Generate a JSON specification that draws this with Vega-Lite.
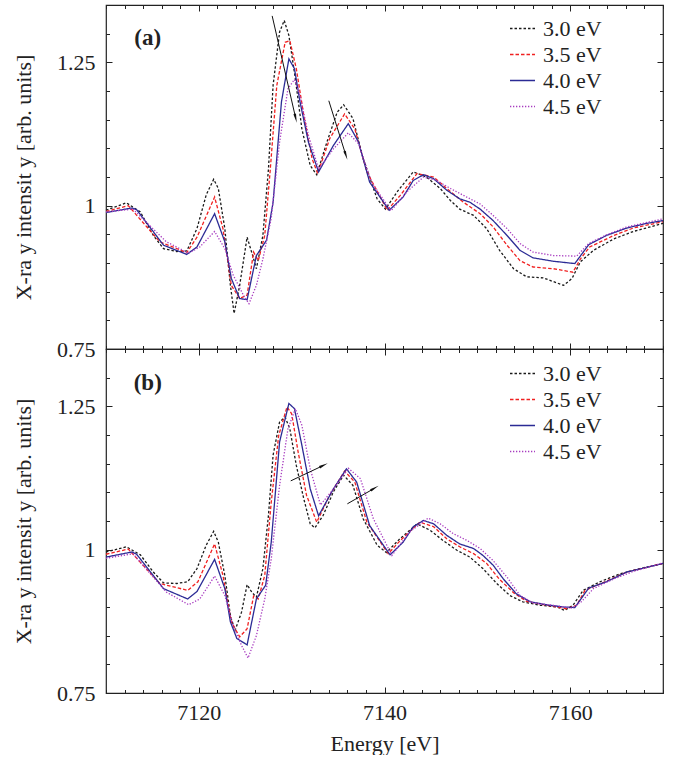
{
  "$schema": "https://vega.github.io/schema/vega-lite/v6.json",
  "background": "white",
  "padding": {"left": 11, "top": 3, "right": 15, "bottom": 0},
  "bounds": "flush",
  "spacing": 0,
  "config": {
    "view": {"stroke": "#222", "strokeWidth": 1.2},
    "font": "Liberation Serif, Times New Roman, DejaVu Serif, serif",
    "axis": {"grid": false, "domain": false, "tickColor": "#222", "tickWidth": 1, "labelFont": "Liberation Serif, Times New Roman, DejaVu Serif, serif", "labelFontSize": 22, "labelColor": "#222", "titleFont": "Liberation Serif, Times New Roman, DejaVu Serif, serif", "titleFontSize": 22, "titleFontWeight": "normal", "titleColor": "#222", "labelFlush": false, "labelOverlap": false, "titleLimit": 1000}
  },
  "datasets": {
    "curves": [
      {"p":"a","s":"3.0 eV","E":7110,"I":0.992},{"p":"a","s":"3.0 eV","E":7112.2,"I":1.005},{"p":"a","s":"3.0 eV","E":7113.7,"I":0.989},{"p":"a","s":"3.0 eV","E":7115.1,"I":0.948},{"p":"a","s":"3.0 eV","E":7116.2,"I":0.925},{"p":"a","s":"3.0 eV","E":7117.6,"I":0.920},{"p":"a","s":"3.0 eV","E":7118.7,"I":0.921},{"p":"a","s":"3.0 eV","E":7119.8,"I":0.960},{"p":"a","s":"3.0 eV","E":7120.8,"I":1.019},{"p":"a","s":"3.0 eV","E":7121.6,"I":1.046},{"p":"a","s":"3.0 eV","E":7122.1,"I":1.030},{"p":"a","s":"3.0 eV","E":7122.8,"I":0.960},{"p":"a","s":"3.0 eV","E":7123.4,"I":0.861},{"p":"a","s":"3.0 eV","E":7123.8,"I":0.812},{"p":"a","s":"3.0 eV","E":7124.4,"I":0.861},{"p":"a","s":"3.0 eV","E":7125.2,"I":0.945},{"p":"a","s":"3.0 eV","E":7125.8,"I":0.913},{"p":"a","s":"3.0 eV","E":7126.2,"I":0.890},{"p":"a","s":"3.0 eV","E":7126.9,"I":0.948},{"p":"a","s":"3.0 eV","E":7127.5,"I":1.064},{"p":"a","s":"3.0 eV","E":7128.0,"I":1.210},{"p":"a","s":"3.0 eV","E":7128.7,"I":1.303},{"p":"a","s":"3.0 eV","E":7129.2,"I":1.323},{"p":"a","s":"3.0 eV","E":7129.7,"I":1.297},{"p":"a","s":"3.0 eV","E":7130.4,"I":1.221},{"p":"a","s":"3.0 eV","E":7131.1,"I":1.134},{"p":"a","s":"3.0 eV","E":7132.0,"I":1.070},{"p":"a","s":"3.0 eV","E":7132.7,"I":1.054},{"p":"a","s":"3.0 eV","E":7133.8,"I":1.111},{"p":"a","s":"3.0 eV","E":7134.9,"I":1.163},{"p":"a","s":"3.0 eV","E":7135.6,"I":1.176},{"p":"a","s":"3.0 eV","E":7136.6,"I":1.152},{"p":"a","s":"3.0 eV","E":7137.7,"I":1.082},{"p":"a","s":"3.0 eV","E":7139.2,"I":1.012},{"p":"a","s":"3.0 eV","E":7140.1,"I":0.994},{"p":"a","s":"3.0 eV","E":7141.4,"I":1.025},{"p":"a","s":"3.0 eV","E":7143.1,"I":1.059},{"p":"a","s":"3.0 eV","E":7144.5,"I":1.050},{"p":"a","s":"3.0 eV","E":7146.0,"I":1.030},{"p":"a","s":"3.0 eV","E":7147.1,"I":1.009},{"p":"a","s":"3.0 eV","E":7148.1,"I":0.994},{"p":"a","s":"3.0 eV","E":7149.6,"I":0.983},{"p":"a","s":"3.0 eV","E":7151.0,"I":0.960},{"p":"a","s":"3.0 eV","E":7152.4,"I":0.922},{"p":"a","s":"3.0 eV","E":7153.9,"I":0.890},{"p":"a","s":"3.0 eV","E":7155.3,"I":0.876},{"p":"a","s":"3.0 eV","E":7157.1,"I":0.874},{"p":"a","s":"3.0 eV","E":7159.3,"I":0.861},{"p":"a","s":"3.0 eV","E":7160.2,"I":0.873},{"p":"a","s":"3.0 eV","E":7161.1,"I":0.902},{"p":"a","s":"3.0 eV","E":7162.5,"I":0.922},{"p":"a","s":"3.0 eV","E":7164.7,"I":0.942},{"p":"a","s":"3.0 eV","E":7166.8,"I":0.955},{"p":"a","s":"3.0 eV","E":7170,"I":0.969},

      {"p":"a","s":"3.5 eV","E":7110,"I":0.990},{"p":"a","s":"3.5 eV","E":7112.4,"I":1.000},{"p":"a","s":"3.5 eV","E":7115.8,"I":0.937},{"p":"a","s":"3.5 eV","E":7118.7,"I":0.918},{"p":"a","s":"3.5 eV","E":7119.8,"I":0.945},{"p":"a","s":"3.5 eV","E":7121.7,"I":1.015},{"p":"a","s":"3.5 eV","E":7122.6,"I":0.960},{"p":"a","s":"3.5 eV","E":7123.5,"I":0.861},{"p":"a","s":"3.5 eV","E":7124.4,"I":0.838},{"p":"a","s":"3.5 eV","E":7125.2,"I":0.844},{"p":"a","s":"3.5 eV","E":7125.9,"I":0.919},{"p":"a","s":"3.5 eV","E":7126.4,"I":0.904},{"p":"a","s":"3.5 eV","E":7127.1,"I":0.948},{"p":"a","s":"3.5 eV","E":7127.7,"I":1.064},{"p":"a","s":"3.5 eV","E":7128.4,"I":1.210},{"p":"a","s":"3.5 eV","E":7129.3,"I":1.285},{"p":"a","s":"3.5 eV","E":7129.8,"I":1.288},{"p":"a","s":"3.5 eV","E":7130.5,"I":1.239},{"p":"a","s":"3.5 eV","E":7131.3,"I":1.158},{"p":"a","s":"3.5 eV","E":7132.2,"I":1.082},{"p":"a","s":"3.5 eV","E":7132.8,"I":1.056},{"p":"a","s":"3.5 eV","E":7134.1,"I":1.117},{"p":"a","s":"3.5 eV","E":7135.7,"I":1.160},{"p":"a","s":"3.5 eV","E":7136.8,"I":1.134},{"p":"a","s":"3.5 eV","E":7138.1,"I":1.059},{"p":"a","s":"3.5 eV","E":7140.3,"I":0.992},{"p":"a","s":"3.5 eV","E":7141.7,"I":1.018},{"p":"a","s":"3.5 eV","E":7143.5,"I":1.056},{"p":"a","s":"3.5 eV","E":7145.3,"I":1.050},{"p":"a","s":"3.5 eV","E":7146.7,"I":1.030},{"p":"a","s":"3.5 eV","E":7148.5,"I":1.006},{"p":"a","s":"3.5 eV","E":7150.3,"I":0.986},{"p":"a","s":"3.5 eV","E":7151.7,"I":0.963},{"p":"a","s":"3.5 eV","E":7153.2,"I":0.931},{"p":"a","s":"3.5 eV","E":7154.6,"I":0.904},{"p":"a","s":"3.5 eV","E":7156.0,"I":0.893},{"p":"a","s":"3.5 eV","E":7158.2,"I":0.890},{"p":"a","s":"3.5 eV","E":7160.3,"I":0.884},{"p":"a","s":"3.5 eV","E":7161.1,"I":0.907},{"p":"a","s":"3.5 eV","E":7162.1,"I":0.928},{"p":"a","s":"3.5 eV","E":7164.7,"I":0.948},{"p":"a","s":"3.5 eV","E":7166.8,"I":0.961},{"p":"a","s":"3.5 eV","E":7170,"I":0.972},

      {"p":"a","s":"4.0 eV","E":7110,"I":0.988},{"p":"a","s":"4.0 eV","E":7112.8,"I":0.996},{"p":"a","s":"4.0 eV","E":7113.3,"I":0.993},{"p":"a","s":"4.0 eV","E":7116.2,"I":0.931},{"p":"a","s":"4.0 eV","E":7118.7,"I":0.915},{"p":"a","s":"4.0 eV","E":7119.8,"I":0.928},{"p":"a","s":"4.0 eV","E":7121.7,"I":0.986},{"p":"a","s":"4.0 eV","E":7122.8,"I":0.937},{"p":"a","s":"4.0 eV","E":7123.5,"I":0.873},{"p":"a","s":"4.0 eV","E":7124.4,"I":0.838},{"p":"a","s":"4.0 eV","E":7125.2,"I":0.836},{"p":"a","s":"4.0 eV","E":7126.2,"I":0.913},{"p":"a","s":"4.0 eV","E":7127.3,"I":0.940},{"p":"a","s":"4.0 eV","E":7128.0,"I":1.006},{"p":"a","s":"4.0 eV","E":7128.9,"I":1.181},{"p":"a","s":"4.0 eV","E":7129.7,"I":1.256},{"p":"a","s":"4.0 eV","E":7130.3,"I":1.239},{"p":"a","s":"4.0 eV","E":7130.9,"I":1.181},{"p":"a","s":"4.0 eV","E":7131.8,"I":1.111},{"p":"a","s":"4.0 eV","E":7132.9,"I":1.059},{"p":"a","s":"4.0 eV","E":7134.5,"I":1.105},{"p":"a","s":"4.0 eV","E":7136.1,"I":1.143},{"p":"a","s":"4.0 eV","E":7137.2,"I":1.111},{"p":"a","s":"4.0 eV","E":7138.4,"I":1.041},{"p":"a","s":"4.0 eV","E":7140.5,"I":0.992},{"p":"a","s":"4.0 eV","E":7142.0,"I":1.015},{"p":"a","s":"4.0 eV","E":7143.1,"I":1.044},{"p":"a","s":"4.0 eV","E":7144.2,"I":1.054},{"p":"a","s":"4.0 eV","E":7145.3,"I":1.047},{"p":"a","s":"4.0 eV","E":7146.7,"I":1.027},{"p":"a","s":"4.0 eV","E":7148.1,"I":1.012},{"p":"a","s":"4.0 eV","E":7149.2,"I":1.006},{"p":"a","s":"4.0 eV","E":7150.3,"I":0.994},{"p":"a","s":"4.0 eV","E":7151.7,"I":0.974},{"p":"a","s":"4.0 eV","E":7153.2,"I":0.948},{"p":"a","s":"4.0 eV","E":7154.6,"I":0.922},{"p":"a","s":"4.0 eV","E":7156.0,"I":0.909},{"p":"a","s":"4.0 eV","E":7158.2,"I":0.903},{"p":"a","s":"4.0 eV","E":7160.5,"I":0.899},{"p":"a","s":"4.0 eV","E":7162.0,"I":0.932},{"p":"a","s":"4.0 eV","E":7163.9,"I":0.948},{"p":"a","s":"4.0 eV","E":7166.1,"I":0.961},{"p":"a","s":"4.0 eV","E":7168.2,"I":0.969},{"p":"a","s":"4.0 eV","E":7170,"I":0.974},

      {"p":"a","s":"4.5 eV","E":7110,"I":0.989},{"p":"a","s":"4.5 eV","E":7112.9,"I":0.994},{"p":"a","s":"4.5 eV","E":7116.5,"I":0.937},{"p":"a","s":"4.5 eV","E":7118.9,"I":0.917},{"p":"a","s":"4.5 eV","E":7120.1,"I":0.928},{"p":"a","s":"4.5 eV","E":7121.7,"I":0.955},{"p":"a","s":"4.5 eV","E":7122.8,"I":0.925},{"p":"a","s":"4.5 eV","E":7123.7,"I":0.879},{"p":"a","s":"4.5 eV","E":7124.8,"I":0.844},{"p":"a","s":"4.5 eV","E":7125.4,"I":0.829},{"p":"a","s":"4.5 eV","E":7126.2,"I":0.861},{"p":"a","s":"4.5 eV","E":7126.9,"I":0.907},{"p":"a","s":"4.5 eV","E":7127.8,"I":0.978},{"p":"a","s":"4.5 eV","E":7128.7,"I":1.111},{"p":"a","s":"4.5 eV","E":7129.6,"I":1.204},{"p":"a","s":"4.5 eV","E":7130.3,"I":1.220},{"p":"a","s":"4.5 eV","E":7130.9,"I":1.192},{"p":"a","s":"4.5 eV","E":7131.8,"I":1.123},{"p":"a","s":"4.5 eV","E":7132.9,"I":1.064},{"p":"a","s":"4.5 eV","E":7134.5,"I":1.099},{"p":"a","s":"4.5 eV","E":7136.1,"I":1.127},{"p":"a","s":"4.5 eV","E":7137.2,"I":1.108},{"p":"a","s":"4.5 eV","E":7138.6,"I":1.041},{"p":"a","s":"4.5 eV","E":7140.7,"I":0.991},{"p":"a","s":"4.5 eV","E":7142.4,"I":1.024},{"p":"a","s":"4.5 eV","E":7144.2,"I":1.050},{"p":"a","s":"4.5 eV","E":7145.6,"I":1.044},{"p":"a","s":"4.5 eV","E":7147.1,"I":1.030},{"p":"a","s":"4.5 eV","E":7148.5,"I":1.018},{"p":"a","s":"4.5 eV","E":7150.3,"I":1.003},{"p":"a","s":"4.5 eV","E":7151.7,"I":0.983},{"p":"a","s":"4.5 eV","E":7153.2,"I":0.960},{"p":"a","s":"4.5 eV","E":7154.6,"I":0.934},{"p":"a","s":"4.5 eV","E":7156.0,"I":0.919},{"p":"a","s":"4.5 eV","E":7158.2,"I":0.913},{"p":"a","s":"4.5 eV","E":7160.7,"I":0.912},{"p":"a","s":"4.5 eV","E":7162.0,"I":0.934},{"p":"a","s":"4.5 eV","E":7163.9,"I":0.949},{"p":"a","s":"4.5 eV","E":7166.1,"I":0.963},{"p":"a","s":"4.5 eV","E":7170,"I":0.977},

      {"p":"b","s":"3.0 eV","E":7110,"I":0.996},{"p":"b","s":"3.0 eV","E":7112.2,"I":1.005},{"p":"b","s":"3.0 eV","E":7113.7,"I":0.991},{"p":"b","s":"3.0 eV","E":7115.1,"I":0.961},{"p":"b","s":"3.0 eV","E":7116.2,"I":0.942},{"p":"b","s":"3.0 eV","E":7117.6,"I":0.941},{"p":"b","s":"3.0 eV","E":7118.8,"I":0.944},{"p":"b","s":"3.0 eV","E":7119.8,"I":0.967},{"p":"b","s":"3.0 eV","E":7120.8,"I":1.008},{"p":"b","s":"3.0 eV","E":7121.6,"I":1.032},{"p":"b","s":"3.0 eV","E":7122.1,"I":1.013},{"p":"b","s":"3.0 eV","E":7122.8,"I":0.955},{"p":"b","s":"3.0 eV","E":7123.4,"I":0.885},{"p":"b","s":"3.0 eV","E":7123.9,"I":0.859},{"p":"b","s":"3.0 eV","E":7124.6,"I":0.891},{"p":"b","s":"3.0 eV","E":7125.2,"I":0.939},{"p":"b","s":"3.0 eV","E":7125.7,"I":0.926},{"p":"b","s":"3.0 eV","E":7126.2,"I":0.917},{"p":"b","s":"3.0 eV","E":7126.9,"I":0.967},{"p":"b","s":"3.0 eV","E":7127.5,"I":1.060},{"p":"b","s":"3.0 eV","E":7128.0,"I":1.165},{"p":"b","s":"3.0 eV","E":7128.7,"I":1.223},{"p":"b","s":"3.0 eV","E":7129.3,"I":1.231},{"p":"b","s":"3.0 eV","E":7129.8,"I":1.211},{"p":"b","s":"3.0 eV","E":7130.5,"I":1.147},{"p":"b","s":"3.0 eV","E":7131.3,"I":1.089},{"p":"b","s":"3.0 eV","E":7132.0,"I":1.045},{"p":"b","s":"3.0 eV","E":7132.5,"I":1.038},{"p":"b","s":"3.0 eV","E":7133.4,"I":1.060},{"p":"b","s":"3.0 eV","E":7134.5,"I":1.101},{"p":"b","s":"3.0 eV","E":7135.6,"I":1.130},{"p":"b","s":"3.0 eV","E":7136.6,"I":1.112},{"p":"b","s":"3.0 eV","E":7137.7,"I":1.054},{"p":"b","s":"3.0 eV","E":7139.2,"I":1.008},{"p":"b","s":"3.0 eV","E":7140.2,"I":0.995},{"p":"b","s":"3.0 eV","E":7141.6,"I":1.018},{"p":"b","s":"3.0 eV","E":7143.5,"I":1.045},{"p":"b","s":"3.0 eV","E":7144.9,"I":1.034},{"p":"b","s":"3.0 eV","E":7146.3,"I":1.016},{"p":"b","s":"3.0 eV","E":7147.8,"I":0.999},{"p":"b","s":"3.0 eV","E":7149.2,"I":0.987},{"p":"b","s":"3.0 eV","E":7150.6,"I":0.967},{"p":"b","s":"3.0 eV","E":7152.1,"I":0.941},{"p":"b","s":"3.0 eV","E":7153.5,"I":0.920},{"p":"b","s":"3.0 eV","E":7154.9,"I":0.909},{"p":"b","s":"3.0 eV","E":7156.8,"I":0.903},{"p":"b","s":"3.0 eV","E":7158.6,"I":0.900},{"p":"b","s":"3.0 eV","E":7159.4,"I":0.894},{"p":"b","s":"3.0 eV","E":7160.3,"I":0.903},{"p":"b","s":"3.0 eV","E":7161.4,"I":0.929},{"p":"b","s":"3.0 eV","E":7163.2,"I":0.944},{"p":"b","s":"3.0 eV","E":7165.4,"I":0.958},{"p":"b","s":"3.0 eV","E":7167.5,"I":0.967},{"p":"b","s":"3.0 eV","E":7170,"I":0.976},

      {"p":"b","s":"3.5 eV","E":7110,"I":0.992},{"p":"b","s":"3.5 eV","E":7112.4,"I":1.001},{"p":"b","s":"3.5 eV","E":7115.8,"I":0.941},{"p":"b","s":"3.5 eV","E":7118.8,"I":0.929},{"p":"b","s":"3.5 eV","E":7119.9,"I":0.944},{"p":"b","s":"3.5 eV","E":7121.7,"I":1.010},{"p":"b","s":"3.5 eV","E":7122.6,"I":0.955},{"p":"b","s":"3.5 eV","E":7123.5,"I":0.874},{"p":"b","s":"3.5 eV","E":7124.4,"I":0.848},{"p":"b","s":"3.5 eV","E":7125.2,"I":0.862},{"p":"b","s":"3.5 eV","E":7125.9,"I":0.919},{"p":"b","s":"3.5 eV","E":7126.4,"I":0.914},{"p":"b","s":"3.5 eV","E":7127.1,"I":0.955},{"p":"b","s":"3.5 eV","E":7127.8,"I":1.083},{"p":"b","s":"3.5 eV","E":7128.6,"I":1.199},{"p":"b","s":"3.5 eV","E":7129.5,"I":1.249},{"p":"b","s":"3.5 eV","E":7130.0,"I":1.237},{"p":"b","s":"3.5 eV","E":7130.7,"I":1.170},{"p":"b","s":"3.5 eV","E":7131.6,"I":1.095},{"p":"b","s":"3.5 eV","E":7132.7,"I":1.048},{"p":"b","s":"3.5 eV","E":7134.1,"I":1.095},{"p":"b","s":"3.5 eV","E":7135.7,"I":1.137},{"p":"b","s":"3.5 eV","E":7136.8,"I":1.118},{"p":"b","s":"3.5 eV","E":7138.1,"I":1.048},{"p":"b","s":"3.5 eV","E":7140.4,"I":0.993},{"p":"b","s":"3.5 eV","E":7141.7,"I":1.016},{"p":"b","s":"3.5 eV","E":7143.8,"I":1.048},{"p":"b","s":"3.5 eV","E":7145.3,"I":1.040},{"p":"b","s":"3.5 eV","E":7146.7,"I":1.019},{"p":"b","s":"3.5 eV","E":7148.1,"I":1.005},{"p":"b","s":"3.5 eV","E":7149.6,"I":0.993},{"p":"b","s":"3.5 eV","E":7151.0,"I":0.976},{"p":"b","s":"3.5 eV","E":7152.4,"I":0.948},{"p":"b","s":"3.5 eV","E":7153.9,"I":0.925},{"p":"b","s":"3.5 eV","E":7155.3,"I":0.910},{"p":"b","s":"3.5 eV","E":7157.5,"I":0.903},{"p":"b","s":"3.5 eV","E":7159.6,"I":0.897},{"p":"b","s":"3.5 eV","E":7160.7,"I":0.903},{"p":"b","s":"3.5 eV","E":7161.6,"I":0.929},{"p":"b","s":"3.5 eV","E":7163.9,"I":0.945},{"p":"b","s":"3.5 eV","E":7166.1,"I":0.961},{"p":"b","s":"3.5 eV","E":7170,"I":0.976},

      {"p":"b","s":"4.0 eV","E":7110,"I":0.987},{"p":"b","s":"4.0 eV","E":7112.8,"I":0.996},{"p":"b","s":"4.0 eV","E":7113.3,"I":0.992},{"p":"b","s":"4.0 eV","E":7116.2,"I":0.932},{"p":"b","s":"4.0 eV","E":7118.8,"I":0.914},{"p":"b","s":"4.0 eV","E":7119.8,"I":0.927},{"p":"b","s":"4.0 eV","E":7121.7,"I":0.983},{"p":"b","s":"4.0 eV","E":7122.8,"I":0.932},{"p":"b","s":"4.0 eV","E":7123.4,"I":0.874},{"p":"b","s":"4.0 eV","E":7124.1,"I":0.845},{"p":"b","s":"4.0 eV","E":7125.2,"I":0.834},{"p":"b","s":"4.0 eV","E":7126.2,"I":0.914},{"p":"b","s":"4.0 eV","E":7127.2,"I":0.938},{"p":"b","s":"4.0 eV","E":7127.8,"I":1.013},{"p":"b","s":"4.0 eV","E":7128.7,"I":1.188},{"p":"b","s":"4.0 eV","E":7129.7,"I":1.255},{"p":"b","s":"4.0 eV","E":7130.3,"I":1.246},{"p":"b","s":"4.0 eV","E":7131.1,"I":1.182},{"p":"b","s":"4.0 eV","E":7132.0,"I":1.106},{"p":"b","s":"4.0 eV","E":7132.9,"I":1.059},{"p":"b","s":"4.0 eV","E":7134.5,"I":1.106},{"p":"b","s":"4.0 eV","E":7135.9,"I":1.141},{"p":"b","s":"4.0 eV","E":7137.0,"I":1.118},{"p":"b","s":"4.0 eV","E":7138.4,"I":1.042},{"p":"b","s":"4.0 eV","E":7140.6,"I":0.991},{"p":"b","s":"4.0 eV","E":7142.0,"I":1.013},{"p":"b","s":"4.0 eV","E":7143.1,"I":1.040},{"p":"b","s":"4.0 eV","E":7144.2,"I":1.051},{"p":"b","s":"4.0 eV","E":7145.3,"I":1.045},{"p":"b","s":"4.0 eV","E":7146.7,"I":1.025},{"p":"b","s":"4.0 eV","E":7148.1,"I":1.010},{"p":"b","s":"4.0 eV","E":7149.6,"I":1.002},{"p":"b","s":"4.0 eV","E":7150.6,"I":0.990},{"p":"b","s":"4.0 eV","E":7151.7,"I":0.973},{"p":"b","s":"4.0 eV","E":7152.8,"I":0.949},{"p":"b","s":"4.0 eV","E":7154.2,"I":0.923},{"p":"b","s":"4.0 eV","E":7155.7,"I":0.909},{"p":"b","s":"4.0 eV","E":7157.8,"I":0.903},{"p":"b","s":"4.0 eV","E":7159.3,"I":0.900},{"p":"b","s":"4.0 eV","E":7160.5,"I":0.899},{"p":"b","s":"4.0 eV","E":7162.0,"I":0.933},{"p":"b","s":"4.0 eV","E":7163.9,"I":0.944},{"p":"b","s":"4.0 eV","E":7166.1,"I":0.961},{"p":"b","s":"4.0 eV","E":7168.2,"I":0.969},{"p":"b","s":"4.0 eV","E":7170,"I":0.976},

      {"p":"b","s":"4.5 eV","E":7110,"I":0.985},{"p":"b","s":"4.5 eV","E":7112.9,"I":0.993},{"p":"b","s":"4.5 eV","E":7116.5,"I":0.926},{"p":"b","s":"4.5 eV","E":7118.9,"I":0.904},{"p":"b","s":"4.5 eV","E":7120.1,"I":0.914},{"p":"b","s":"4.5 eV","E":7121.7,"I":0.954},{"p":"b","s":"4.5 eV","E":7122.8,"I":0.920},{"p":"b","s":"4.5 eV","E":7123.7,"I":0.868},{"p":"b","s":"4.5 eV","E":7124.6,"I":0.833},{"p":"b","s":"4.5 eV","E":7125.3,"I":0.811},{"p":"b","s":"4.5 eV","E":7126.2,"I":0.850},{"p":"b","s":"4.5 eV","E":7127.1,"I":0.914},{"p":"b","s":"4.5 eV","E":7127.8,"I":0.984},{"p":"b","s":"4.5 eV","E":7128.7,"I":1.112},{"p":"b","s":"4.5 eV","E":7129.6,"I":1.211},{"p":"b","s":"4.5 eV","E":7130.4,"I":1.246},{"p":"b","s":"4.5 eV","E":7131.1,"I":1.217},{"p":"b","s":"4.5 eV","E":7132.0,"I":1.141},{"p":"b","s":"4.5 eV","E":7133.1,"I":1.078},{"p":"b","s":"4.5 eV","E":7134.5,"I":1.106},{"p":"b","s":"4.5 eV","E":7136.1,"I":1.142},{"p":"b","s":"4.5 eV","E":7137.4,"I":1.124},{"p":"b","s":"4.5 eV","E":7138.8,"I":1.054},{"p":"b","s":"4.5 eV","E":7140.8,"I":0.990},{"p":"b","s":"4.5 eV","E":7142.7,"I":1.031},{"p":"b","s":"4.5 eV","E":7144.7,"I":1.055},{"p":"b","s":"4.5 eV","E":7146.0,"I":1.045},{"p":"b","s":"4.5 eV","E":7147.4,"I":1.028},{"p":"b","s":"4.5 eV","E":7148.9,"I":1.016},{"p":"b","s":"4.5 eV","E":7150.3,"I":1.002},{"p":"b","s":"4.5 eV","E":7151.7,"I":0.981},{"p":"b","s":"4.5 eV","E":7153.2,"I":0.952},{"p":"b","s":"4.5 eV","E":7154.6,"I":0.920},{"p":"b","s":"4.5 eV","E":7156.0,"I":0.907},{"p":"b","s":"4.5 eV","E":7158.2,"I":0.903},{"p":"b","s":"4.5 eV","E":7160.2,"I":0.898},{"p":"b","s":"4.5 eV","E":7161.2,"I":0.909},{"p":"b","s":"4.5 eV","E":7162.5,"I":0.932},{"p":"b","s":"4.5 eV","E":7164.7,"I":0.949},{"p":"b","s":"4.5 eV","E":7166.8,"I":0.962},{"p":"b","s":"4.5 eV","E":7170,"I":0.977}
    ],
    "arrows": [
      {"p":"a","x":7127.9,"y":1.331,"x2":7130.4,"y2":1.155,"ang":167},
      {"p":"a","x":7134.0,"y":1.183,"x2":7135.8,"y2":1.090,"ang":162},
      {"p":"b","x":7129.9,"y":1.120,"x2":7133.3,"y2":1.146,"ang":64},
      {"p":"b","x":7136.0,"y":1.080,"x2":7138.8,"y2":1.106,"ang":60}
    ],
    "panels": [
      {"p":"a","tag":"(a)"},
      {"p":"b","tag":"(b)"}
    ]
  },
  "resolve": {
    "scale": {"color": "independent", "strokeDash": "independent"},
    "legend": {"color": "independent", "strokeDash": "independent"}
  },
  "vconcat": [
    {
      "width": 557, "height": 344,
      "layer": [
        {
          "data": {"name": "curves"},
          "transform": [{"filter": "datum.p === 'a'"}],
          "mark": {"type": "line", "strokeWidth": 1.3},
          "encoding": {
            "x": {"field": "E", "type": "quantitative", "scale": {"domain": [7110, 7170], "nice": false, "zero": false},
              "axis": {"orient": "bottom", "values": [7110,7112,7114,7116,7118,7120,7122,7124,7126,7128,7130,7132,7134,7136,7138,7140,7142,7144,7146,7148,7150,7152,7154,7156,7158,7160,7162,7164,7166,7168,7170], "tickSize": {"condition": {"test": "datum.value % 20 === 0", "value": -6}, "value": -3.5}, "labels": false, "title": null}},
            "y": {"field": "I", "type": "quantitative", "scale": {"domain": [0.75, 1.35], "nice": false, "zero": false},
              "axis": {"orient": "left", "values": [0.75,0.8,0.85,0.9,0.95,1,1.05,1.1,1.15,1.2,1.25,1.3,1.35], "tickSize": {"condition": {"test": "abs(datum.value*4 - round(datum.value*4)) < 0.001", "value": -6}, "value": -3.5}, "labelFontSize": {"condition": {"test": "abs(datum.value*4 - round(datum.value*4)) < 0.001", "value": 22}, "value": 0}, "labelExpr": "abs(datum.value-0.75)<0.001 ? '0.75' : abs(datum.value-1)<0.001 ? '1' : abs(datum.value-1.25)<0.001 ? '1.25' : ''", "labelPadding": 17, "title": "X-ra y intensit y [arb. units]", "titlePadding": 21}},
            "color": {"field": "s", "type": "nominal", "scale": {"domain": ["3.0 eV","3.5 eV","4.0 eV","4.5 eV"], "range": ["#1a1a1a","#f02020","#2b2b95","#a83cc0"]},
              "legend": {"orient": "none", "legendX": 403, "legendY": 10, "title": null, "symbolType": "stroke", "symbolSize": 625, "symbolStrokeWidth": 1.5, "labelFont": "Liberation Serif, Times New Roman, DejaVu Serif, serif", "labelFontSize": 22, "labelColor": "#222", "labelOffset": 7, "rowPadding": 1, "padding": 0}},
            "strokeDash": {"field": "s", "type": "nominal", "scale": {"domain": ["3.0 eV","3.5 eV","4.0 eV","4.5 eV"], "range": [[2.5,2],[3.5,2],[1,0],[1.3,1.7]]},
              "legend": {"orient": "none", "legendX": 403, "legendY": 10, "title": null, "symbolType": "stroke", "symbolSize": 625, "symbolStrokeWidth": 1.5, "labelFont": "Liberation Serif, Times New Roman, DejaVu Serif, serif", "labelFontSize": 22, "labelColor": "#222", "labelOffset": 7, "rowPadding": 1, "padding": 0}}
          }
        },
        {
          "data": {"name": "arrows"},
          "transform": [{"filter": "datum.p === 'a'"}],
          "mark": {"type": "rule", "color": "#111", "strokeWidth": 1},
          "encoding": {
            "x": {"field": "x", "type": "quantitative", "scale": {"domain": [7110, 7170], "nice": false, "zero": false},
              "axis": {"orient": "top", "values": [7110,7112,7114,7116,7118,7120,7122,7124,7126,7128,7130,7132,7134,7136,7138,7140,7142,7144,7146,7148,7150,7152,7154,7156,7158,7160,7162,7164,7166,7168,7170], "tickSize": {"condition": {"test": "datum.value % 20 === 0", "value": -6}, "value": -3.5}, "labels": false, "title": null}},
            "y": {"field": "y", "type": "quantitative", "scale": {"domain": [0.75, 1.35], "nice": false, "zero": false},
              "axis": {"orient": "right", "values": [0.75,0.8,0.85,0.9,0.95,1,1.05,1.1,1.15,1.2,1.25,1.3,1.35], "tickSize": {"condition": {"test": "abs(datum.value*4 - round(datum.value*4)) < 0.001", "value": -6}, "value": -3.5}, "labels": false, "title": null}},
            "x2": {"field": "x2"},
            "y2": {"field": "y2"}
          }
        },
        {
          "data": {"name": "arrows"},
          "transform": [{"filter": "datum.p === 'a'"}],
          "mark": {"type": "point", "shape": "wedge", "filled": true, "color": "#111", "opacity": 1, "size": 110},
          "encoding": {
            "x": {"field": "x2", "type": "quantitative", "scale": {"domain": [7110, 7170], "nice": false, "zero": false}, "axis": null},
            "y": {"field": "y2", "type": "quantitative", "scale": {"domain": [0.75, 1.35], "nice": false, "zero": false}, "axis": null},
            "angle": {"field": "ang", "type": "quantitative", "scale": null}
          }
        },
        {
          "data": {"name": "panels"},
          "transform": [{"filter": "datum.p === 'a'"}],
          "mark": {"type": "text", "font": "Liberation Serif, Times New Roman, DejaVu Serif, serif", "fontSize": 23, "fontWeight": "bold", "color": "#222"},
          "encoding": {
            "x": {"datum": 7114.5, "type": "quantitative", "scale": {"domain": [7110, 7170], "nice": false, "zero": false}, "axis": null},
            "y": {"datum": 1.293, "type": "quantitative", "scale": {"domain": [0.75, 1.35], "nice": false, "zero": false}, "axis": null},
            "text": {"field": "tag"}
          }
        }
      ]
    },
    {
      "width": 557, "height": 344,
      "layer": [
        {
          "data": {"name": "curves"},
          "transform": [{"filter": "datum.p === 'b'"}],
          "mark": {"type": "line", "strokeWidth": 1.3},
          "encoding": {
            "x": {"field": "E", "type": "quantitative", "scale": {"domain": [7110, 7170], "nice": false, "zero": false},
              "axis": {"orient": "bottom", "values": [7110,7112,7114,7116,7118,7120,7122,7124,7126,7128,7130,7132,7134,7136,7138,7140,7142,7144,7146,7148,7150,7152,7154,7156,7158,7160,7162,7164,7166,7168,7170], "tickSize": {"condition": {"test": "datum.value % 20 === 0", "value": -6}, "value": -3.5}, "labelFontSize": {"condition": {"test": "datum.value % 20 === 0", "value": 22}, "value": 0}, "labelExpr": "datum.value % 20 === 0 && datum.value > 7110 ? format(datum.value, 'd') : ''", "labelPadding": 15, "title": "Energy [eV]", "titlePadding": 10}},
            "y": {"field": "I", "type": "quantitative", "scale": {"domain": [0.75, 1.35], "nice": false, "zero": false},
              "axis": {"orient": "left", "values": [0.75,0.8,0.85,0.9,0.95,1,1.05,1.1,1.15,1.2,1.25,1.3,1.35], "tickSize": {"condition": {"test": "abs(datum.value*4 - round(datum.value*4)) < 0.001", "value": -6}, "value": -3.5}, "labelFontSize": {"condition": {"test": "abs(datum.value*4 - round(datum.value*4)) < 0.001", "value": 22}, "value": 0}, "labelExpr": "abs(datum.value-0.75)<0.001 ? '0.75' : abs(datum.value-1)<0.001 ? '1' : abs(datum.value-1.25)<0.001 ? '1.25' : ''", "labelPadding": 17, "title": "X-ra y intensit y [arb. units]", "titlePadding": 21}},
            "color": {"field": "s", "type": "nominal", "scale": {"domain": ["3.0 eV","3.5 eV","4.0 eV","4.5 eV"], "range": ["#1a1a1a","#f02020","#2b2b95","#a83cc0"]},
              "legend": {"orient": "none", "legendX": 403, "legendY": 11, "title": null, "symbolType": "stroke", "symbolSize": 625, "symbolStrokeWidth": 1.5, "labelFont": "Liberation Serif, Times New Roman, DejaVu Serif, serif", "labelFontSize": 22, "labelColor": "#222", "labelOffset": 7, "rowPadding": 1, "padding": 0}},
            "strokeDash": {"field": "s", "type": "nominal", "scale": {"domain": ["3.0 eV","3.5 eV","4.0 eV","4.5 eV"], "range": [[2.5,2],[3.5,2],[1,0],[1.3,1.7]]},
              "legend": {"orient": "none", "legendX": 403, "legendY": 11, "title": null, "symbolType": "stroke", "symbolSize": 625, "symbolStrokeWidth": 1.5, "labelFont": "Liberation Serif, Times New Roman, DejaVu Serif, serif", "labelFontSize": 22, "labelColor": "#222", "labelOffset": 7, "rowPadding": 1, "padding": 0}}
          }
        },
        {
          "data": {"name": "arrows"},
          "transform": [{"filter": "datum.p === 'b'"}],
          "mark": {"type": "rule", "color": "#111", "strokeWidth": 1},
          "encoding": {
            "x": {"field": "x", "type": "quantitative", "scale": {"domain": [7110, 7170], "nice": false, "zero": false},
              "axis": {"orient": "top", "values": [7110,7112,7114,7116,7118,7120,7122,7124,7126,7128,7130,7132,7134,7136,7138,7140,7142,7144,7146,7148,7150,7152,7154,7156,7158,7160,7162,7164,7166,7168,7170], "tickSize": {"condition": {"test": "datum.value % 20 === 0", "value": -6}, "value": -3.5}, "labels": false, "title": null}},
            "y": {"field": "y", "type": "quantitative", "scale": {"domain": [0.75, 1.35], "nice": false, "zero": false},
              "axis": {"orient": "right", "values": [0.75,0.8,0.85,0.9,0.95,1,1.05,1.1,1.15,1.2,1.25,1.3,1.35], "tickSize": {"condition": {"test": "abs(datum.value*4 - round(datum.value*4)) < 0.001", "value": -6}, "value": -3.5}, "labels": false, "title": null}},
            "x2": {"field": "x2"},
            "y2": {"field": "y2"}
          }
        },
        {
          "data": {"name": "arrows"},
          "transform": [{"filter": "datum.p === 'b'"}],
          "mark": {"type": "point", "shape": "wedge", "filled": true, "color": "#111", "opacity": 1, "size": 110},
          "encoding": {
            "x": {"field": "x2", "type": "quantitative", "scale": {"domain": [7110, 7170], "nice": false, "zero": false}, "axis": null},
            "y": {"field": "y2", "type": "quantitative", "scale": {"domain": [0.75, 1.35], "nice": false, "zero": false}, "axis": null},
            "angle": {"field": "ang", "type": "quantitative", "scale": null}
          }
        },
        {
          "data": {"name": "panels"},
          "transform": [{"filter": "datum.p === 'b'"}],
          "mark": {"type": "text", "font": "Liberation Serif, Times New Roman, DejaVu Serif, serif", "fontSize": 23, "fontWeight": "bold", "color": "#222"},
          "encoding": {
            "x": {"datum": 7114.5, "type": "quantitative", "scale": {"domain": [7110, 7170], "nice": false, "zero": false}, "axis": null},
            "y": {"datum": 1.291, "type": "quantitative", "scale": {"domain": [0.75, 1.35], "nice": false, "zero": false}, "axis": null},
            "text": {"field": "tag"}
          }
        }
      ]
    }
  ]
}
